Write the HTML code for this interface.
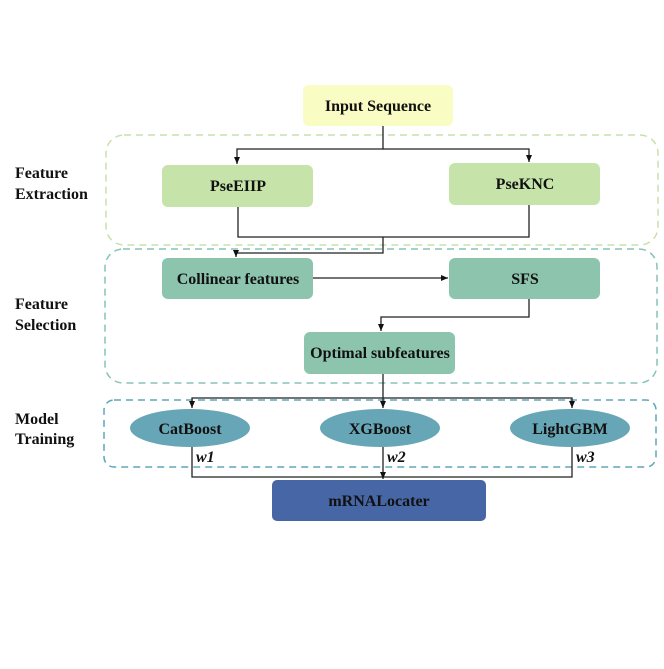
<!DOCTYPE html>
<html><head><style>body{margin:0;background:#fff}</style></head><body>
<svg width="664" height="664" xmlns="http://www.w3.org/2000/svg" font-family="Liberation Serif, serif" font-weight="bold">
<defs>
<marker id="ar" markerWidth="8" markerHeight="8" refX="7" refY="4" orient="auto" markerUnits="userSpaceOnUse"><path d="M0,1 L7,4 L0,7 z" fill="#111"/></marker></defs>
<rect x="106" y="135" width="552" height="110" rx="18" fill="none" stroke="#c8e0ac" stroke-width="1.5" stroke-dasharray="7,5"/>
<rect x="105" y="249" width="552" height="134" rx="18" fill="none" stroke="#86c3b8" stroke-width="1.5" stroke-dasharray="7,5"/>
<rect x="104" y="400" width="552" height="67" rx="10" fill="none" stroke="#5ea6bb" stroke-width="1.5" stroke-dasharray="7,5"/>
<rect x="303" y="85" width="150" height="41" rx="6" fill="#f9fcc3"/>
<rect x="162" y="165" width="151" height="42" rx="6" fill="#c6e4a9"/>
<rect x="449" y="163" width="151" height="42" rx="6" fill="#c6e4a9"/>
<rect x="162" y="258" width="151" height="41" rx="6" fill="#8cc4ae"/>
<rect x="449" y="258" width="151" height="41" rx="6" fill="#8cc4ae"/>
<rect x="304" y="332" width="151" height="42" rx="6" fill="#8cc4ae"/>
<ellipse cx="190" cy="428" rx="60" ry="19" fill="#67a6b6"/>
<ellipse cx="380" cy="428" rx="60" ry="19" fill="#67a6b6"/>
<ellipse cx="570" cy="428" rx="60" ry="19" fill="#67a6b6"/>
<rect x="272" y="480" width="214" height="41" rx="5" fill="#4666a5"/>
<g stroke="#222" stroke-width="1.3" fill="none">
<path d="M383,126 V149 H237 V164" marker-end="url(#ar)"/>
<path d="M383,149 H529 V162" marker-end="url(#ar)"/>
<path d="M238,207 V237 H529 V205"/>
<path d="M383,237 V253 H236 V257" marker-end="url(#ar)"/>
<path d="M313,278 H448" marker-end="url(#ar)"/>
<path d="M529,299 V317 H381 V331" marker-end="url(#ar)"/>
<path d="M383,374 V398 H192 V408" marker-end="url(#ar)"/>
<path d="M383,398 V408" marker-end="url(#ar)"/>
<path d="M383,398 H572 V408" marker-end="url(#ar)"/>
<path d="M192,447 V477 H572 V447"/>
<path d="M383,447 V479" marker-end="url(#ar)"/>
</g>
<g font-size="16" text-anchor="middle" fill="#111">
<text x="378" y="111">Input Sequence</text>
<text x="238" y="191">PseEIIP</text>
<text x="525" y="189">PseKNC</text>
<text x="238" y="284">Collinear features</text>
<text x="525" y="284">SFS</text>
<text x="380" y="358">Optimal subfeatures</text>
<text x="190" y="434">CatBoost</text>
<text x="380" y="434">XGBoost</text>
<text x="570" y="434">LightGBM</text>
<text x="379" y="506">mRNALocater</text>
</g>
<g font-size="16" font-style="italic" fill="#111">
<text x="196" y="462">w1</text><text x="387" y="462">w2</text><text x="576" y="462">w3</text>
</g>
<g font-size="16" fill="#111">
<text x="15" y="178">Feature</text><text x="15" y="199">Extraction</text>
<text x="15" y="309">Feature</text><text x="15" y="330">Selection</text>
<text x="15" y="424">Model</text><text x="15" y="444">Training</text>
</g>
</svg>
</body></html>
